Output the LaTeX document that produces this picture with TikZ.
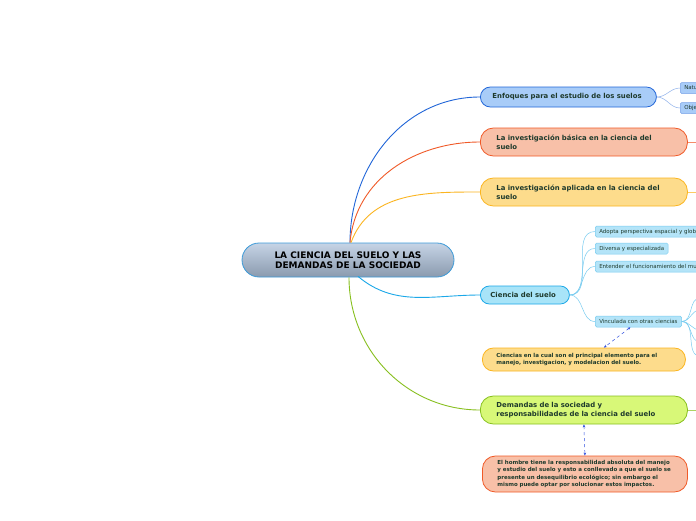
\documentclass[tikz,border=0pt]{standalone}
\usepackage{fontspec}
\setmainfont{DejaVu Sans}
\usetikzlibrary{arrows.meta,calc}

\definecolor{txtgreen}{HTML}{1E3A2C}
\definecolor{bluefill}{HTML}{A8CCF8}
\definecolor{bluedraw}{HTML}{2266D8}
\definecolor{orfill}{HTML}{F8C0A8}
\definecolor{ordraw}{HTML}{F05A28}
\definecolor{yefill}{HTML}{FDDC8C}
\definecolor{yedraw}{HTML}{FBB520}
\definecolor{cyfill}{HTML}{A8E4F8}
\definecolor{cydraw}{HTML}{1CA8E8}
\definecolor{grfill}{HTML}{D8F878}
\definecolor{grdraw}{HTML}{88C020}
\definecolor{leaffill}{HTML}{B4E4F8}
\definecolor{leafdraw}{HTML}{78CCF0}
\definecolor{dashblue}{HTML}{3050E0}
\definecolor{maintop}{HTML}{C6D4E6}
\definecolor{mainbot}{HTML}{8A9AAE}
\definecolor{maindraw}{HTML}{3C9AD8}

\begin{document}
\begin{tikzpicture}[
      x=1pt, y=-1pt,
      central/.style = {draw=maindraw, line width=0.8pt, rounded corners=17pt,
                        top color=maintop, bottom color=mainbot,
                        minimum width=212pt, minimum height=34pt, align=center,
                        font=\bfseries\fontsize{9}{10.5}\selectfont},
      topic/.style   = {line width=0.8pt, anchor=west, align=left, inner xsep=16pt,
                        text width=175pt, minimum height=28pt, rounded corners=13pt,
                        font=\bfseries\fontsize{6.9}{9}\selectfont, text=txtgreen},
      note/.style    = {topic, inner xsep=14pt, font=\bfseries\fontsize{5.5}{7.2}\selectfont},
      leaf/.style    = {draw=leafdraw, fill=leaffill, line width=0.5pt, anchor=west,
                        rounded corners=1.5pt, minimum height=11pt, inner xsep=4pt,
                        inner ysep=0pt, font=\fontsize{5.5}{6}\selectfont, text=txtgreen},
      branch/.style  = {line width=0.9pt},
      twig/.style    = {draw=leafdraw, line width=0.5pt},
      link/.style    = {draw=dashblue, dashed, line width=0.5pt,
                        {Stealth[length=3pt,width=2.6pt]}-{Stealth[length=3pt,width=2.6pt]}},
    ]
    \fill[white] (0,0) rectangle (696,520);
    \useasboundingbox (0,0) rectangle (696,520);
    \clip (0,0) rectangle (696,520);

    %% ------------------------------------------------ main topic
    \node[central] (c) at (348,260) {LA CIENCIA DEL SUELO Y LAS\\DEMANDAS DE LA SOCIEDAD};

    %% ------------------------------------------------ subtopics
    \node[topic, draw=bluedraw, fill=bluefill, minimum height=20pt, rounded corners=10pt,
          inner xsep=12pt, text width=152pt] (enf) at (480,97)
          {Enfoques para el estudio de los suelos};
    \node[topic, draw=ordraw, fill=orfill] (bas) at (480,142)
          {La investigación básica en la ciencia del\\suelo};
    \node[topic, draw=yedraw, fill=yefill] (apl) at (480,192)
          {La investigación aplicada en la ciencia del\\suelo};
    \node[topic, draw=cydraw, fill=cyfill, minimum height=18pt, rounded corners=9pt,
          inner xsep=10pt, text width=69pt] (cs) at (480,295) {Ciencia del suelo};
    \node[note, draw=yedraw, fill=yefill, minimum height=23pt, rounded corners=11pt]
          (cie) at (482,359.5)
          {Ciencias en la cual son el principal elemento para el\\manejo, investigacion, y modelacion del suelo.};
    \node[topic, draw=grdraw, fill=grfill] (dem) at (480,410)
          {Demandas de la sociedad y\\responsabilidades de la ciencia del suelo};
    \node[note, draw=ordraw, fill=orfill, minimum height=36pt, rounded corners=13pt,
          inner xsep=15pt] (hom) at (482,474)
          {El hombre tiene la responsabilidad absoluta del manejo\\y estudio del suelo y esto a conllevado a que el suelo se\\presente un desequilibrio ecológico; sin embargo el\\mismo puede optar por solucionar estos impactos.};

    %% ------------------------------------------------ leaves
    \node[leaf, draw=bluedraw!60, fill=bluefill, minimum width=30pt, text width=22pt,
          align=left] (nat) at (680,88) {Natu};
    \node[leaf, draw=bluedraw!60, fill=bluefill, minimum width=30pt, text width=22pt,
          align=left] (obj) at (680,108) {Obje};
    \node[leaf, minimum width=110pt, text width=102pt, align=left] (ado) at (595,231.5)
          {Adopta perspectiva espacial y glob};
    \node[leaf] (div) at (595,248.5) {Diversa y especializada};
    \node[leaf, minimum width=110pt, text width=102pt, align=left] (ent) at (595,266.5)
          {Entender el funcionamiento del mu};
    \node[leaf] (vin) at (595,321.5) {Vinculada con otras ciencias};

    %% ------------------------------------------------ branches
    \draw[branch, bluedraw] (c.north) ++(2,0) to[out=90, in=180] (enf.west);
    \draw[branch, ordraw]   (c.north) ++(2,0) to[out=85, in=180] (bas.west);
    \draw[branch, yedraw]   (c.north) ++(3,0) to[out=70, in=180] (apl.west);
    \draw[branch, cydraw]   (c.south) ++(10,-1) to[out=-40, in=180] (cs.west);
    \draw[branch, grdraw]   (c.south) ++(1,0) to[out=-90, in=180] (dem.west);

    \coordinate (basout) at (700,142);
    \coordinate (aplout) at (700,192);
    \coordinate (demout) at (700,410);
    \draw[line width=0.8pt, ordraw!70] (bas.east) -- (basout);
    \draw[line width=0.8pt, yedraw!70] (apl.east) -- (aplout);
    \draw[line width=0.8pt, grdraw!70] (dem.east) -- (demout);

    \draw[twig, draw=bluedraw!50] (enf.east) to[out=0, in=180] (nat.west);
    \draw[twig, draw=bluedraw!50] (enf.east) to[out=0, in=180] (obj.west);
    \foreach \leafname in {ado, div, ent, vin}
      \draw[twig] (cs.east) to[out=0, in=180] (\leafname.west);
    \foreach \y in {298, 310, 330, 342, 356}
      \draw[twig] (vin.east) to[out=0, in=180] (700,\y);

    %% ------------------------------------------------ relations
    \draw[link] (vin.south) ++(-8,0) -- ($(cie.north)+(20,0)$);
    \draw[link] (dem.south) -- (hom.north);
  \end{tikzpicture}
\end{document}
